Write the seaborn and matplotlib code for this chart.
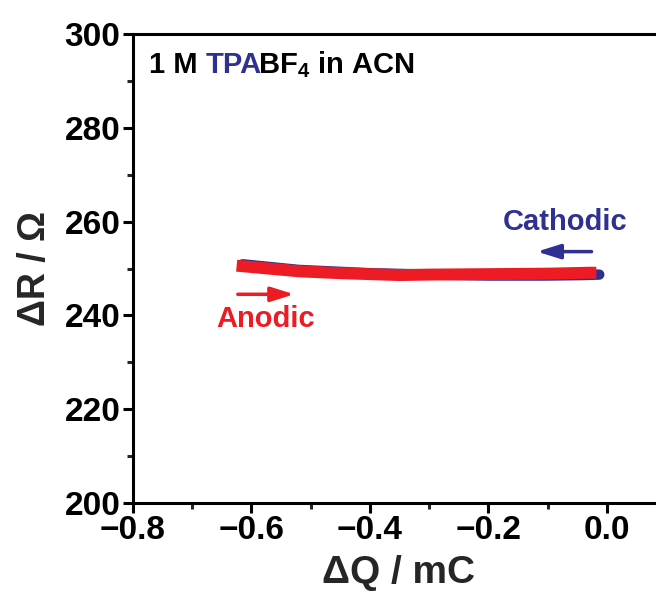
import matplotlib
matplotlib.use("Agg")
import matplotlib.pyplot as plt
import seaborn as sns
import pandas as pd
from matplotlib.offsetbox import TextArea, HPacker, AnchoredOffsetbox
from matplotlib.ticker import MultipleLocator

# ---- data ----
cathodic_q = [-0.013, -0.04, -0.10, -0.20, -0.30, -0.40, -0.52, -0.615]
cathodic_r = [248.7, 248.6, 248.5, 248.5, 248.7, 249.0, 249.7, 250.9]
anodic_q = [-0.625, -0.52, -0.45, -0.35, -0.30, -0.20, -0.10, -0.03, -0.018]
anodic_r = [250.6, 249.4, 249.0, 248.6, 248.7, 248.8, 248.9, 249.1, 249.1]

x_ticks = [-0.8, -0.6, -0.4, -0.2, 0.0]
y_ticks = [200, 220, 240, 260, 280, 300]

BLUE = "#2E3192"
RED = "#ED1C24"

sns.set_theme(style="white")
plt.rcParams["font.family"] = ["Liberation Sans", "DejaVu Sans"]
plt.rcParams["font.weight"] = "bold"
plt.rcParams["mathtext.fontset"] = "custom"
plt.rcParams["mathtext.rm"] = "Liberation Sans:bold"
plt.rcParams["mathtext.default"] = "rm"
plt.rcParams["axes.unicode_minus"] = True

df_c = pd.DataFrame({"Q": cathodic_q, "R": cathodic_r})
df_a = pd.DataFrame({"Q": anodic_q, "R": anodic_r})

fig = plt.figure(figsize=(6.56, 5.99), dpi=100)
ax = fig.add_axes([0.2027, 0.1603, 0.81, 0.7829])

sns.lineplot(data=df_c, x="Q", y="R", sort=False, estimator=None, ax=ax,
             color=BLUE, linewidth=7.5, solid_capstyle="round")
sns.lineplot(data=df_a, x="Q", y="R", sort=False, estimator=None, ax=ax,
             color=RED, linewidth=8.6, solid_capstyle="butt")

ax.set_xlim(-0.8, -0.8 + 0.81 * 656 / 592.5)
ax.set_ylim(200, 300)
ax.set_xticks(x_ticks)
ax.set_yticks(y_ticks)
ax.set_xticklabels([f"{v:.1f}".replace("-", "\u2212") for v in x_ticks])
ax.xaxis.set_minor_locator(MultipleLocator(0.1))
ax.yaxis.set_minor_locator(MultipleLocator(10))

for s in ax.spines.values():
    s.set_linewidth(2.2)
    s.set_color("black")
ax.spines["right"].set_visible(False)

ax.tick_params(axis="both", which="major", direction="out", length=7, width=2.2,
               labelsize=24, colors="black", pad=2, bottom=True, left=True)
ax.tick_params(axis="both", which="minor", direction="out", length=4.5, width=2.2,
               bottom=True, left=True)
for lab in ax.get_xticklabels() + ax.get_yticklabels():
    lab.set_fontweight("bold")

ax.set_xlabel("\u0394Q / mC", fontsize=28, fontweight="bold", labelpad=6)
ax.set_ylabel("\u0394R / \u03a9", fontsize=27, fontweight="bold", labelpad=8)

# annotations
arrow_kw = dict(arrowstyle="-|>,head_length=0.7,head_width=0.22",
                lw=2.5, mutation_scale=20, shrinkA=0, shrinkB=0)
ax.annotate("", xy=(-0.118, 253.6), xytext=(-0.026, 253.6),
            arrowprops=dict(color=BLUE, **arrow_kw))
ax.text(-0.071, 260.0, "Cathodic", color=BLUE, fontsize=21, fontweight="bold",
        ha="center", va="center")
ax.annotate("", xy=(-0.528, 244.5), xytext=(-0.623, 244.5),
            arrowprops=dict(color=RED, **arrow_kw))
ax.text(-0.576, 239.2, "Anodic", color=RED, fontsize=21, fontweight="bold",
        ha="center", va="center")

# title with mixed colours
tp = dict(fontsize=21, fontweight="bold")
t1 = TextArea("1 M ", textprops=dict(color="black", **tp))
t2 = TextArea("TPA", textprops=dict(color=BLUE, **tp))
t3 = TextArea("BF$_\\mathregular{4}$ in ACN", textprops=dict(color="black", **tp))
inner = HPacker(children=[t2, t3], align="baseline", pad=0, sep=-3)
box = HPacker(children=[t1, inner], align="baseline", pad=0, sep=0)
anch = AnchoredOffsetbox(loc="center left", child=box, pad=0, frameon=False,
                         bbox_to_anchor=(0.03, 0.935), bbox_transform=ax.transAxes,
                         borderpad=0)
ax.add_artist(anch)

fig.savefig("out.png", dpi=100)
